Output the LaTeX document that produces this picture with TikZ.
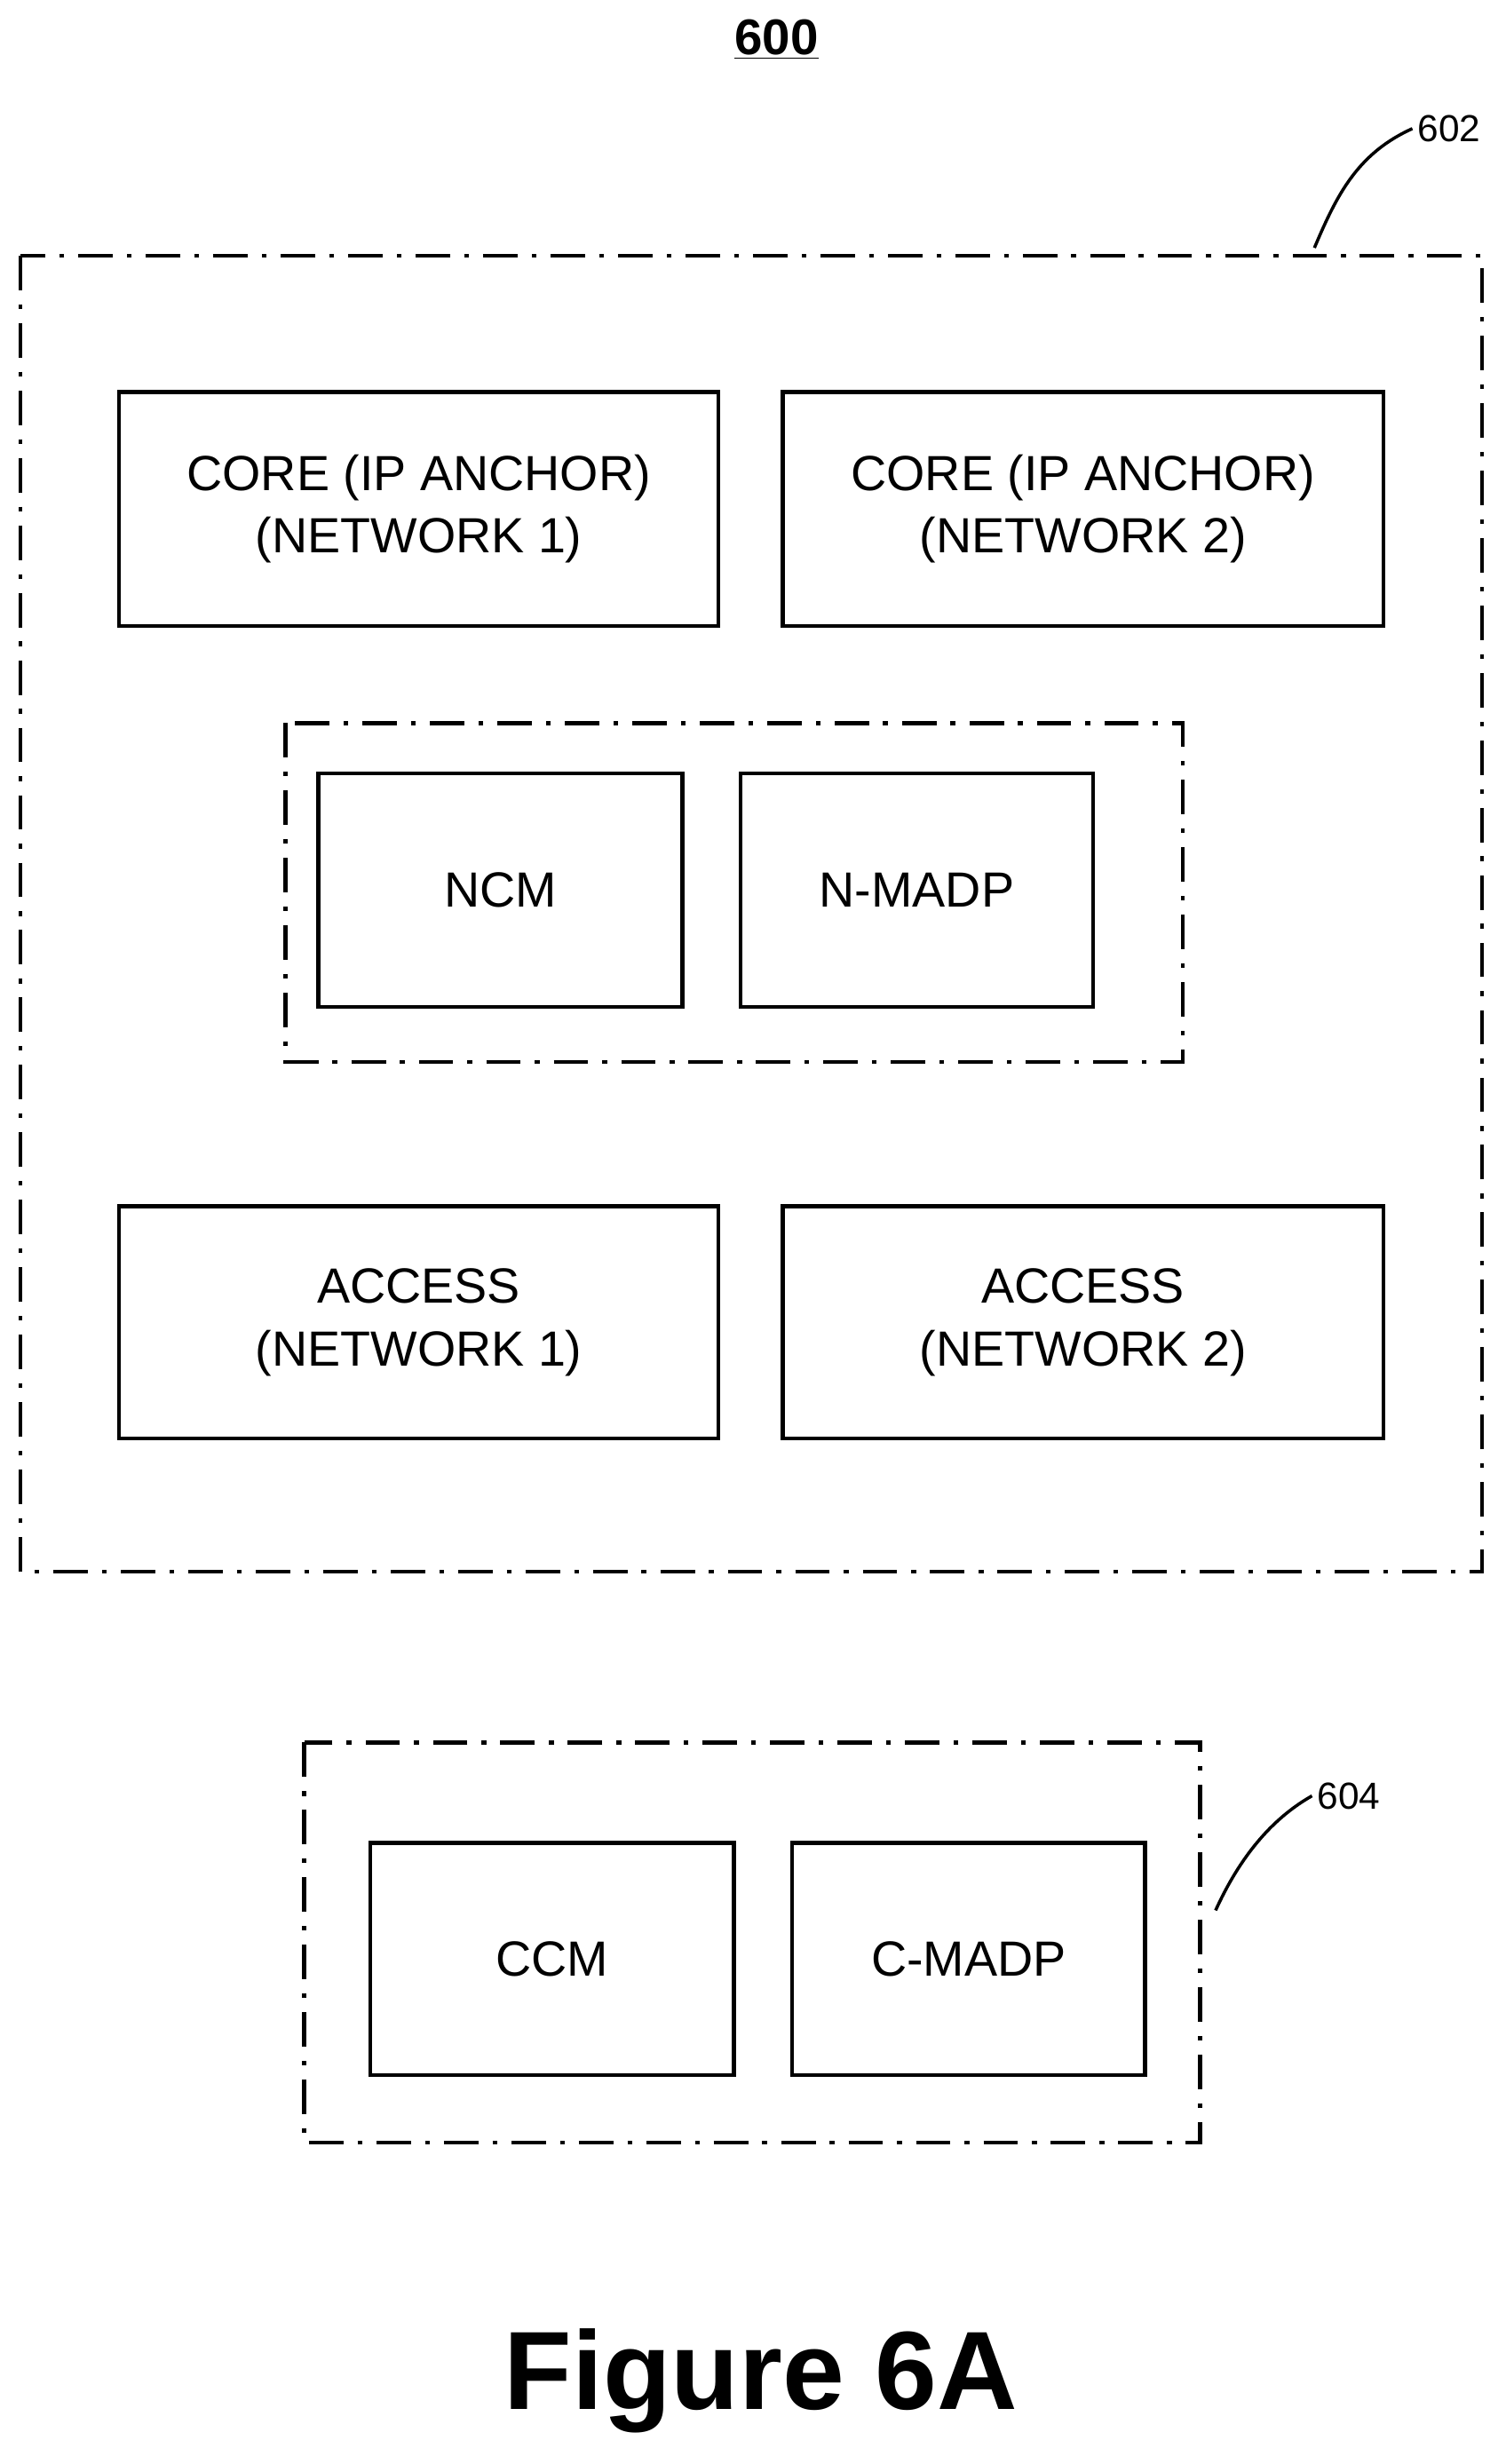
\documentclass[tikz,border=0pt]{standalone}
\usepackage{fontspec}
\setmainfont{Liberation Sans}
\begin{document}
\begin{tikzpicture}[x=1pt,y=-1pt,
  blk/.style={draw,line width=2.5pt,inner sep=0pt,align=center,font=\fontsize{31.5}{40}\selectfont},
  grp/.style={line width=2.5pt,dash pattern=on 22pt off 9pt on 3pt off 9pt}]
\useasboundingbox (0,0) rectangle (960,1571);

% Title
\node (title) at (495,25) {\fontsize{32}{38}\selectfont\bfseries\underline{600}};

% Outer group 602
\draw[grp] (13,163) rectangle (945,1002);
\node[font=\fontsize{24}{28}\selectfont] (lab602) at (924,82) {602};
\draw[line width=2pt] (838,158) .. controls (852,125) and (865,98) .. (lab602.west);

\node[blk,minimum width=382pt,minimum height=149pt] (core1) at (267,324.5) {CORE (IP ANCHOR)\\(NETWORK 1)};
\node[blk,minimum width=383pt,minimum height=149pt] (core2) at (690.5,324.5) {CORE (IP ANCHOR)\\(NETWORK 2)};

% Network side
\draw[grp] (182,461) rectangle (754,677);
\node[blk,minimum width=232pt,minimum height=149pt] (ncm) at (319,567.5) {NCM};
\node[blk,minimum width=225pt,minimum height=149pt] (nmadp) at (584.5,567.5) {N-MADP};

\node[blk,minimum width=382pt,minimum height=148pt] (acc1) at (267,843) {ACCESS\\(NETWORK 1)};
\node[blk,minimum width=383pt,minimum height=148pt] (acc2) at (690.5,843) {ACCESS\\(NETWORK 2)};

% Client group 604
\draw[grp] (194,1111) rectangle (765,1366);
\node[font=\fontsize{24}{28}\selectfont] (lab604) at (860,1145) {604};
\draw[line width=2pt] (775,1218) .. controls (790,1185) and (810,1160) .. (lab604.west);
\node[blk,minimum width=232pt,minimum height=148pt] (ccm) at (352,1249) {CCM};
\node[blk,minimum width=225pt,minimum height=148pt] (cmadp) at (617.5,1249) {C-MADP};

\node (fig) at (485,1518) {\fontsize{71}{84}\selectfont\bfseries Figure 6A};
\end{tikzpicture}
\end{document}
